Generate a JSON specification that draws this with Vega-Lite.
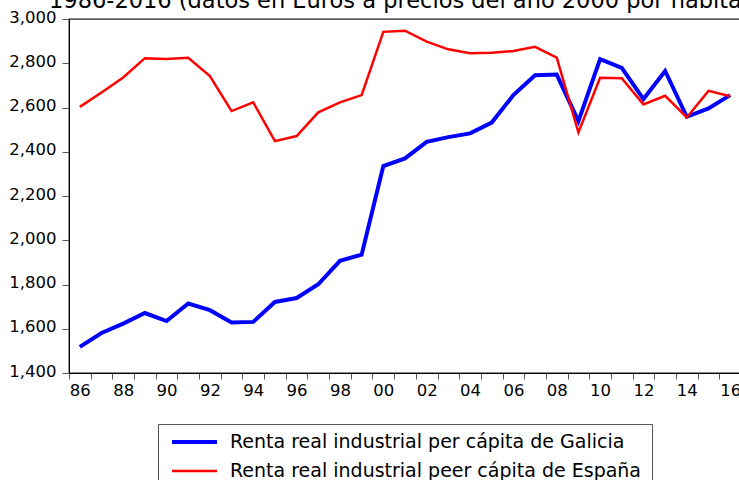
{
  "$schema": "https://vega.github.io/schema/vega-lite/v6.json",
  "width": 672,
  "height": 354,
  "autosize": "none",
  "padding": {"left": 69, "top": 19, "right": 0, "bottom": 107},
  "background": "white",
  "title": {
    "text": "1986-2016 (datos en Euros a precios del año 2000 por habitante)",
    "anchor": "start",
    "frame": "group",
    "baseline": "alphabetic",
    "offset": 4,
    "dy": 25,
    "dx": -20,
    "font": "DejaVu Sans",
    "fontSize": 22.5,
    "fontWeight": "normal",
    "color": "#000000"
  },
  "config": {
    "view": {"stroke": "#222222", "strokeWidth": 1.3},
    "axis": {"labelFont": "DejaVu Sans", "labelColor": "#000000", "domainColor": "#000000", "tickColor": "#555555", "grid": false, "title": null}
  },
  "data": {
    "values": [
      {"year": 1986, "series": "Renta real industrial per cápita de Galicia", "value": 1518},
      {"year": 1987, "series": "Renta real industrial per cápita de Galicia", "value": 1581},
      {"year": 1988, "series": "Renta real industrial per cápita de Galicia", "value": 1623},
      {"year": 1989, "series": "Renta real industrial per cápita de Galicia", "value": 1671},
      {"year": 1990, "series": "Renta real industrial per cápita de Galicia", "value": 1635},
      {"year": 1991, "series": "Renta real industrial per cápita de Galicia", "value": 1714},
      {"year": 1992, "series": "Renta real industrial per cápita de Galicia", "value": 1684},
      {"year": 1993, "series": "Renta real industrial per cápita de Galicia", "value": 1628},
      {"year": 1994, "series": "Renta real industrial per cápita de Galicia", "value": 1631},
      {"year": 1995, "series": "Renta real industrial per cápita de Galicia", "value": 1721},
      {"year": 1996, "series": "Renta real industrial per cápita de Galicia", "value": 1739},
      {"year": 1997, "series": "Renta real industrial per cápita de Galicia", "value": 1801},
      {"year": 1998, "series": "Renta real industrial per cápita de Galicia", "value": 1907},
      {"year": 1999, "series": "Renta real industrial per cápita de Galicia", "value": 1935},
      {"year": 2000, "series": "Renta real industrial per cápita de Galicia", "value": 2335},
      {"year": 2001, "series": "Renta real industrial per cápita de Galicia", "value": 2370},
      {"year": 2002, "series": "Renta real industrial per cápita de Galicia", "value": 2445},
      {"year": 2003, "series": "Renta real industrial per cápita de Galicia", "value": 2466},
      {"year": 2004, "series": "Renta real industrial per cápita de Galicia", "value": 2483},
      {"year": 2005, "series": "Renta real industrial per cápita de Galicia", "value": 2532},
      {"year": 2006, "series": "Renta real industrial per cápita de Galicia", "value": 2656},
      {"year": 2007, "series": "Renta real industrial per cápita de Galicia", "value": 2746},
      {"year": 2008, "series": "Renta real industrial per cápita de Galicia", "value": 2749},
      {"year": 2009, "series": "Renta real industrial per cápita de Galicia", "value": 2538},
      {"year": 2010, "series": "Renta real industrial per cápita de Galicia", "value": 2819},
      {"year": 2011, "series": "Renta real industrial per cápita de Galicia", "value": 2779},
      {"year": 2012, "series": "Renta real industrial per cápita de Galicia", "value": 2638},
      {"year": 2013, "series": "Renta real industrial per cápita de Galicia", "value": 2765},
      {"year": 2014, "series": "Renta real industrial per cápita de Galicia", "value": 2558},
      {"year": 2015, "series": "Renta real industrial per cápita de Galicia", "value": 2596},
      {"year": 2016, "series": "Renta real industrial per cápita de Galicia", "value": 2656},
      {"year": 1986, "series": "Renta real industrial peer cápita de España", "value": 2603},
      {"year": 1987, "series": "Renta real industrial peer cápita de España", "value": 2668},
      {"year": 1988, "series": "Renta real industrial peer cápita de España", "value": 2736},
      {"year": 1989, "series": "Renta real industrial peer cápita de España", "value": 2823},
      {"year": 1990, "series": "Renta real industrial peer cápita de España", "value": 2819},
      {"year": 1991, "series": "Renta real industrial peer cápita de España", "value": 2825},
      {"year": 1992, "series": "Renta real industrial peer cápita de España", "value": 2742},
      {"year": 1993, "series": "Renta real industrial peer cápita de España", "value": 2584},
      {"year": 1994, "series": "Renta real industrial peer cápita de España", "value": 2623},
      {"year": 1995, "series": "Renta real industrial peer cápita de España", "value": 2448},
      {"year": 1996, "series": "Renta real industrial peer cápita de España", "value": 2471},
      {"year": 1997, "series": "Renta real industrial peer cápita de España", "value": 2578},
      {"year": 1998, "series": "Renta real industrial peer cápita de España", "value": 2623},
      {"year": 1999, "series": "Renta real industrial peer cápita de España", "value": 2656},
      {"year": 2000, "series": "Renta real industrial peer cápita de España", "value": 2942},
      {"year": 2001, "series": "Renta real industrial peer cápita de España", "value": 2947},
      {"year": 2002, "series": "Renta real industrial peer cápita de España", "value": 2898},
      {"year": 2003, "series": "Renta real industrial peer cápita de España", "value": 2863},
      {"year": 2004, "series": "Renta real industrial peer cápita de España", "value": 2845},
      {"year": 2005, "series": "Renta real industrial peer cápita de España", "value": 2847},
      {"year": 2006, "series": "Renta real industrial peer cápita de España", "value": 2855},
      {"year": 2007, "series": "Renta real industrial peer cápita de España", "value": 2874},
      {"year": 2008, "series": "Renta real industrial peer cápita de España", "value": 2825},
      {"year": 2009, "series": "Renta real industrial peer cápita de España", "value": 2487},
      {"year": 2010, "series": "Renta real industrial peer cápita de España", "value": 2734},
      {"year": 2011, "series": "Renta real industrial peer cápita de España", "value": 2732},
      {"year": 2012, "series": "Renta real industrial peer cápita de España", "value": 2614},
      {"year": 2013, "series": "Renta real industrial peer cápita de España", "value": 2653},
      {"year": 2014, "series": "Renta real industrial peer cápita de España", "value": 2555},
      {"year": 2015, "series": "Renta real industrial peer cápita de España", "value": 2675},
      {"year": 2016, "series": "Renta real industrial peer cápita de España", "value": 2651}
    ]
  },
  "mark": {"type": "line", "strokeJoin": "miter", "strokeCap": "butt"},
  "encoding": {
    "x": {
      "field": "year",
      "type": "quantitative",
      "scale": {"domain": [1985.5, 2016.5], "nice": false, "zero": false},
      "axis": {
        "values": [1985.5, 1986.5, 1987.5, 1988.5, 1989.5, 1990.5, 1991.5, 1992.5, 1993.5, 1994.5, 1995.5, 1996.5, 1997.5, 1998.5, 1999.5, 2000.5, 2001.5, 2002.5, 2003.5, 2004.5, 2005.5, 2006.5, 2007.5, 2008.5, 2009.5, 2010.5, 2011.5, 2012.5, 2013.5, 2014.5, 2015.5, 2016.5],
        "labelExpr": "((datum.value + 0.5) % 2 == 0 && datum.value < 2016) ? substring(toString(datum.value + 0.5), 2, 4) : ''",
        "labelOffset": 10.84,
        "labelOverlap": false,
        "labelFlush": false,
        "labelFontSize": 16.5,
        "labelPadding": 3,
        "tickSize": 6,
        "labelBaseline": "top"
      }
    },
    "y": {
      "field": "value",
      "type": "quantitative",
      "scale": {"domain": [1400, 3000], "nice": false, "zero": false},
      "axis": {
        "values": [1400, 1600, 1800, 2000, 2200, 2400, 2600, 2800, 3000],
        "format": ",d",
        "labelFontSize": 16.5,
        "tickSize": 7,
        "labelPadding": 6,
        "labelOffset": -2
      }
    },
    "color": {
      "field": "series",
      "type": "nominal",
      "scale": {"domain": ["Renta real industrial per cápita de Galicia", "Renta real industrial peer cápita de España"], "range": ["#0000FF", "#FF0000"]},
      "legend": {
        "title": null,
        "orient": "none",
        "legendX": 89,
        "legendY": 405,
        "direction": "vertical",
        "symbolType": "stroke",
        "symbolSize": 2025,
        "symbolOffset": 2,
        "clipHeight": 16,
        "rowPadding": 10,
        "padding": 10,
        "labelOffset": 11,
        "labelFont": "DejaVu Sans",
        "labelFontSize": 19,
        "labelColor": "#000000",
        "labelLimit": 600,
        "strokeColor": "#555555",
        "fillColor": "#FFFFFF"
      }
    },
    "strokeWidth": {
      "field": "series",
      "type": "nominal",
      "scale": {"domain": ["Renta real industrial per cápita de Galicia", "Renta real industrial peer cápita de España"], "range": [4, 2.5]},
      "legend": {
        "title": null,
        "orient": "none",
        "legendX": 89,
        "legendY": 405,
        "direction": "vertical",
        "symbolType": "stroke",
        "symbolSize": 2025,
        "symbolOffset": 2,
        "clipHeight": 16,
        "rowPadding": 10,
        "padding": 10,
        "labelOffset": 11,
        "labelFont": "DejaVu Sans",
        "labelFontSize": 19,
        "labelColor": "#000000",
        "labelLimit": 600,
        "strokeColor": "#555555",
        "fillColor": "#FFFFFF"
      }
    }
  }
}
